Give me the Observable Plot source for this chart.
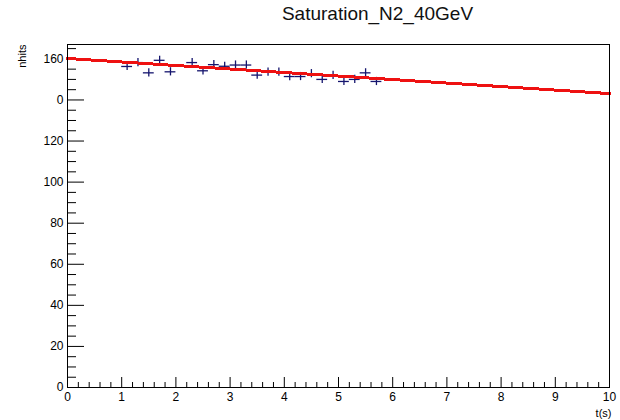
<!DOCTYPE html>
<html>
<head>
<meta charset="utf-8">
<script src="https://cdn.jsdelivr.net/npm/d3@7"></script>
<script src="https://cdn.jsdelivr.net/npm/@observablehq/plot@0.6"></script>
<style>
  html, body { margin: 0; padding: 0; background: #fff; }
  #chart { width: 620px; height: 420px; }
  svg { font-family: "Liberation Sans", Arial, sans-serif; }
</style>
</head>
<body>
<div id="chart"></div>
<script>
// ---- data ----
const titleText = "Saturation_N2_40GeV";
const xLabel = "t(s)";
const yLabel = "nhits";

const tValues = [1.1, 1.3, 1.5, 1.7, 1.9, 2.3, 2.5, 2.7, 2.9, 3.1, 3.3, 3.5, 3.7, 3.9, 4.1, 4.3, 4.5, 4.7, 4.9, 5.1, 5.3, 5.5, 5.7];
const nhitsValues = [156.3, 158.2, 153.2, 159.3, 153.7, 158.2, 154.2, 157.2, 156.4, 157.0, 157.0, 152.1, 153.5, 153.5, 151.4, 151.4, 152.8, 150.0, 152.0, 149.0, 150.0, 153.2, 149.0];
const tErr = 0.1;
const nhitsErr = 2.0;

const fitT = [0, 10];
const fitNhits = [160.2, 143.1];

const xMajorTicks = [0, 1, 2, 3, 4, 5, 6, 7, 8, 9, 10];
const xTickLabels = ["0", "1", "2", "3", "4", "5", "6", "7", "8", "9", "10"];
const xMinorTicks = d3.range(0, 10.001, 0.2).filter(v => Math.abs(v - Math.round(v)) > 1e-6);

const yMajorTicks = [0, 20, 40, 60, 80, 100, 120, 140, 160];
const yTickLabels = ["0", "20", "40", "60", "80", "100", "120", "0", "160"];
const yMinorTicks = d3.range(0, 167, 5).filter(v => v % 20 !== 0);

// ---- build tables ----
const points = tValues.map((t, i) => ({t, v: nhitsValues[i]}));
const fit = fitT.map((t, i) => ({t, v: fitNhits[i]}));
const xLabelMap = new Map(xMajorTicks.map((d, i) => [d, xTickLabels[i]]));
const yLabelMap = new Map(yMajorTicks.map((d, i) => [d, yTickLabels[i]]));

const markerColor = "#15156e";

const chart = Plot.plot({
  width: 620,
  height: 420,
  marginLeft: 67,
  marginRight: 11,
  marginTop: 44,
  marginBottom: 33,
  style: {fontFamily: "'Liberation Sans', Arial, sans-serif", fontSize: "12px", color: "#000", background: "#fff"},
  x: {domain: [0, 10]},
  y: {domain: [0, 167]},
  marks: [
    // inward ticks (ROOT style)
    Plot.axisX({ticks: xMinorTicks, tickSize: -5, text: null, label: null, anchor: "bottom"}),
    Plot.axisX({ticks: xMajorTicks, tickSize: -10, text: null, label: null, anchor: "bottom"}),
    Plot.axisX({ticks: xMajorTicks, tickSize: 0, tickPadding: 5, tickFormat: d => xLabelMap.get(d), label: null, anchor: "bottom", fontSize: 12}),
    Plot.axisY({ticks: yMinorTicks, tickSize: -9, text: null, label: null, anchor: "left"}),
    Plot.axisY({ticks: yMajorTicks, tickSize: -17, text: null, label: null, anchor: "left"}),
    Plot.axisY({ticks: yMajorTicks, tickSize: 0, tickPadding: 4, tickFormat: d => yLabelMap.get(d), label: null, anchor: "left", fontSize: 12}),
    // error bars
    Plot.ruleX(points, {x: "t", y1: d => d.v - nhitsErr, y2: d => d.v + nhitsErr, stroke: markerColor, strokeWidth: 1.3}),
    Plot.ruleY(points, {y: "v", x1: d => d.t - tErr, x2: d => d.t + tErr, stroke: markerColor, strokeWidth: 1.3}),
    // fit line
    Plot.line(fit, {x: "t", y: "v", stroke: "#ee1111", strokeWidth: 3, shapeRendering: "crispEdges"}),
    Plot.frame({stroke: "#000", strokeWidth: 1}),
    // texts
    Plot.text([titleText], {frameAnchor: "top", dx: 39, dy: -25, lineAnchor: "bottom", fontSize: 19, fill: "#111"}),
    Plot.text([yLabel], {frameAnchor: "top-left", dx: -45, dy: 0, rotate: -90, textAnchor: "end", lineAnchor: "middle", fontSize: 11}),
    Plot.text([xLabel], {frameAnchor: "bottom-right", dx: 2, dy: 26, textAnchor: "end", lineAnchor: "middle", fontSize: 11})
  ]
});
document.getElementById("chart").appendChild(chart);
</script>
</body>
</html>
